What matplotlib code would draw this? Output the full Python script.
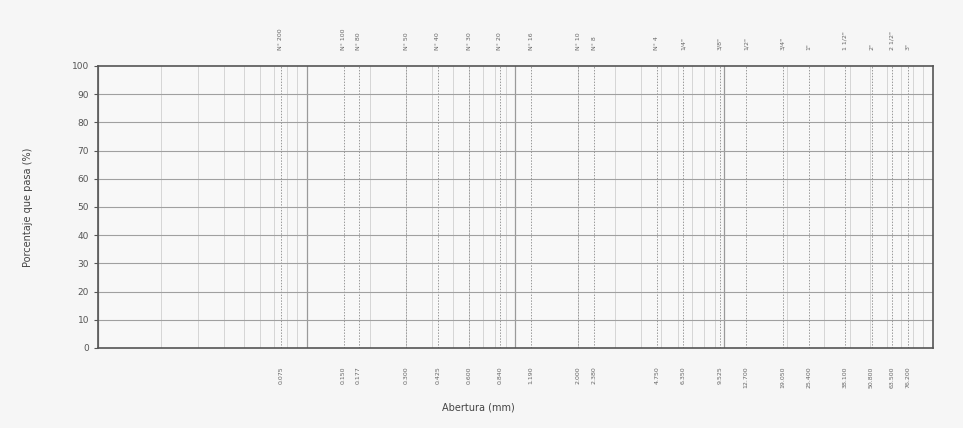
import numpy as np
import matplotlib.pyplot as plt

# tamices y aberturas
tamices = ['N° 200', 'N° 100', 'N° 80', 'N° 50', 'N° 40', 'N° 30', 'N° 20', 'N° 16',
           'N° 10', 'N° 8', 'N° 4', '1/4"', '3/8"', '1/2"', '3/4"', '1"',
           '1 1/2"', '2"', '2 1/2"', '3"']
aberturas = [0.075, 0.150, 0.177, 0.300, 0.425, 0.600, 0.840, 1.190,
             2.000, 2.380, 4.750, 6.350, 9.525, 12.700, 19.050, 25.400,
             38.100, 50.800, 63.500, 76.200]
ab_txt = ['0.075', '0.150', '0.177', '0.300', '0.425', '0.600', '0.840', '1.190',
          '2.000', '2.380', '4.750', '6.350', '9.525', '12.700', '19.050', '25.400',
          '38.100', '50.800', '63.500', '76.200']
y_ticks = [0, 10, 20, 30, 40, 50, 60, 70, 80, 90, 100]

fig = plt.figure(figsize=(9.63, 4.28), dpi=100)
fig.patch.set_facecolor('#f6f6f6')
ax = fig.add_axes([0.1018, 0.187, 0.867, 0.659])
ax.set_facecolor('#f8f8f8')

ax.set_xscale('log')
ax.set_xlim(0.01, 100)
ax.set_ylim(0, 100)

# grilla logaritmica
for dec in [0.01, 0.1, 1, 10]:
    for k in range(1, 10):
        x = dec * k
        if k == 1:
            ax.axvline(x, color='#9a9a9a', lw=0.9, zorder=1)
        else:
            ax.axvline(x, color='#d0d0d0', lw=0.6, zorder=1)
for y in y_ticks[1:-1]:
    ax.axhline(y, color='#a0a0a0', lw=0.8, zorder=1)

# lineas de tamices
for x in aberturas:
    ax.axvline(x, color='#9a9a9a', lw=0.7, ls=(0, (1.5, 1.5)), zorder=2)

ax.set_xticks([])
ax.set_xticks([], minor=True)
ax.set_yticks(y_ticks)
ax.tick_params(axis='y', labelsize=6.5, colors='#555555', length=3)

for s in ax.spines.values():
    s.set_color('#555555')
    s.set_linewidth(1.2)

# etiquetas superiores e inferiores
for x, t, a in zip(aberturas, tamices, ab_txt):
    ax.text(x, 1.055, t, transform=ax.get_xaxis_transform(), rotation=90,
            ha='center', va='bottom', fontsize=4.5, color='#666666')
    ax.text(x, -0.065, a, transform=ax.get_xaxis_transform(), rotation=90,
            ha='center', va='top', fontsize=4.5, color='#666666')

ax.set_ylabel('Porcentaje que pasa (%)', fontsize=7, color='#444444', labelpad=28)
fig.text(0.497, 0.047, 'Abertura (mm)', ha='center', va='center',
         fontsize=7, color='#444444')

fig.savefig('out.png', dpi=100, facecolor=fig.get_facecolor())
